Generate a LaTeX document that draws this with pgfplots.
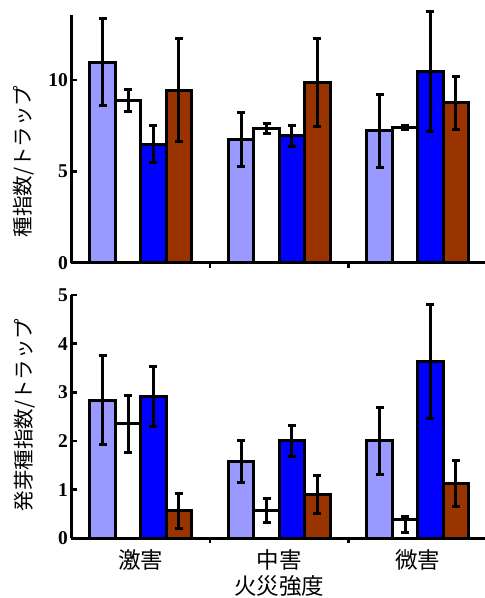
\documentclass[border=0pt]{standalone}
\usepackage{pgfplots}
\pgfplotsset{compat=1.18}
\usepackage{pgfplotstable}
\usepackage{fontspec}
\setmainfont{Liberation Serif}
\newfontfamily\jp{Noto Sans CJK JP}

\definecolor{lblue}{RGB}{153,153,255}
\definecolor{dblue}{RGB}{0,0,255}
\definecolor{rust}{RGB}{153,51,0}

% top panel: x y ep em
\pgfplotstableread{
x y ep em
1 10.98 2.4 2.4
2 6.75 1.47 1.47
3 7.23 2.0 2.0
}\topA
\pgfplotstableread{
x y ep em
1 8.87 0.6 0.6
2 7.36 0.27 0.27
3 7.39 0.12 0.12
}\topB
\pgfplotstableread{
x y ep em
1 6.5 1.0 1.0
2 6.94 0.57 0.57
3 10.46 3.3 3.3
}\topC
\pgfplotstableread{
x y ep em
1 9.45 2.8 2.8
2 9.85 2.4 2.4
3 8.76 1.45 1.45
}\topD

% bottom panel
\pgfplotstableread{
x y ep em
1 2.84 0.92 0.92
2 1.57 0.43 0.43
3 2.0 0.68 0.68
}\botA
\pgfplotstableread{
x y ep em
1 2.35 0.58 0.58
2 0.57 0.25 0.25
3 0.38 0.07 0.27
}\botB
\pgfplotstableread{
x y ep em
1 2.92 0.62 0.62
2 2.0 0.32 0.32
3 3.64 1.17 1.17
}\botC
\pgfplotstableread{
x y ep em
1 0.57 0.36 0.36
2 0.9 0.39 0.39
3 1.13 0.47 0.47
}\botD

\pgfplotsset{
  panel/.style={
    scale only axis, width=415.5pt,
    xmin=0.5, xmax=3.5, ymin=0,
    axis x line*=bottom, axis y line*=left,
    axis line style={line width=3pt, black},
    tick align=inside,
    major tick length=5pt,
    tick style={line width=2.5pt, black},
    xtick={1.5,2.5}, xticklabels={},
    ybar=0pt, bar width=0.184, clip=false,
    /pgf/number format/assume math mode=true,
    yticklabel style={font=\fontsize{19.5}{19.5}\selectfont\bfseries},
    ylabel style={anchor=center, font=\jp\fontsize{20.5}{21}\selectfont},
    every axis plot/.append style={draw=black, line width=3pt},
    error bars/y dir=both, error bars/y explicit,
    error bars/error bar style={line width=3pt, black},
    error bars/error mark options={rotate=90, line width=3pt, mark size=4pt, black},
  },
}

\newcommand{\bars}[4]{%
  \addplot[fill=lblue, bar shift=-0.276] table[x=x, y=y, y error plus=ep, y error minus=em] {#1};
  \addplot[fill=white, bar shift=-0.092] table[x=x, y=y, y error plus=ep, y error minus=em] {#2};
  \addplot[fill=dblue, bar shift=0.092] table[x=x, y=y, y error plus=ep, y error minus=em] {#3};
  \addplot[fill=rust, bar shift=0.276] table[x=x, y=y, y error plus=ep, y error minus=em] {#4};
}

\begin{document}
\begin{tikzpicture}
\path[use as bounding box] (0,0) rectangle (485pt,598pt);

\begin{axis}[panel,
    at={(71.5pt,335pt)}, anchor=south west,
    height=248pt, ymax=13.55,
    ytick={0,5,10},
    ylabel={種指数/トラップ},
    ylabel style={at={(axis description cs:-0.114,0.41)}},
]
\bars{\topA}{\topB}{\topC}{\topD}
\end{axis}

\begin{axis}[panel,
    at={(71.5pt,59.7pt)}, anchor=south west,
    height=243.3pt, ymax=5,
    ytick={0,1,2,3,4,5},
    extra x ticks={1,2,3},
    extra x tick labels={激害,中害,微害},
    extra x tick style={major tick length=0pt,
      tick label style={font=\jp\fontsize{22.5}{22.5}\selectfont, yshift=-8pt}},
    xlabel={火災強度},
    xlabel style={at={(axis description cs:0.5,-0.196)}, anchor=center,
      font=\jp\fontsize{22.5}{22.5}\selectfont},
    ylabel={発芽種指数/トラップ},
    ylabel style={at={(axis description cs:-0.112,0.507)}},
]
\bars{\botA}{\botB}{\botC}{\botD}
\end{axis}
\end{tikzpicture}
\end{document}
